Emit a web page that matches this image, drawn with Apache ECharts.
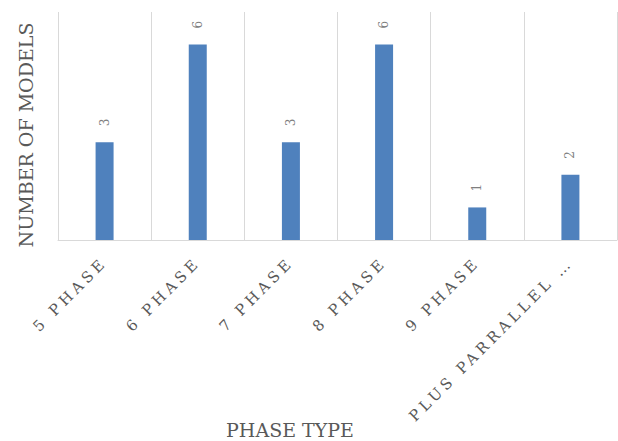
<!DOCTYPE html>
<html><head><meta charset="utf-8">
<script src="https://cdn.jsdelivr.net/npm/echarts@6/dist/echarts.min.js"></script>
<style>
html,body{margin:0;padding:0;background:#fff;}
#chart{width:618px;height:441px;}
#chart text[style*="15px"]{letter-spacing:4px;}
</style></head><body><div id="chart"></div>
<script>
const categories = ['5 PHASE', '6 PHASE', '7 PHASE', '8 PHASE', '9 PHASE', 'PLUS PARRALLEL …'];
const modelCounts = [3, 6, 3, 6, 1, 2];
const yAxisTitle = 'NUMBER OF MODELS';
const xAxisTitle = 'PHASE TYPE';

const chart = echarts.init(document.getElementById('chart'), null, {renderer: 'svg'});
chart.setOption({
  animation: false,
  backgroundColor: '#ffffff',
  grid: {left: 58, right: 1, top: 12, bottom: 201, containLabel: false},
  xAxis: {
    type: 'category',
    data: categories,
    axisLine: {lineStyle: {color: '#d9d9d9', width: 1}},
    axisTick: {show: false},
    splitLine: {show: true, interval: 0, lineStyle: {color: '#d9d9d9', width: 1}},
    axisLabel: {
      interval: 0, rotate: 45, margin: 20,
      fontFamily: 'DejaVu Serif', fontSize: 15, color: '#595959'
    }
  },
  yAxis: {
    type: 'value', min: 0, max: 7,
    axisLine: {show: false}, axisTick: {show: false},
    axisLabel: {show: false}, splitLine: {show: false}
  },
  series: [{
    type: 'bar',
    data: modelCounts,
    barWidth: 18,
    itemStyle: {color: '#4f81bd'},
    label: {
      show: true, position: 'top', distance: 16, rotate: 90,
      align: 'left', verticalAlign: 'middle',
      fontFamily: 'DejaVu Serif', fontSize: 12, color: '#7f7f7f'
    }
  }],
  graphic: [
    {type: 'text', x: 26, y: 135, rotation: Math.PI / 2,
     style: {text: yAxisTitle, fontFamily: 'DejaVu Serif', fontSize: 19, fill: '#595959',
             align: 'center', verticalAlign: 'middle'}},
    {type: 'text', x: 290, y: 430,
     style: {text: xAxisTitle, fontFamily: 'DejaVu Serif', fontSize: 19, fill: '#595959',
             align: 'center', verticalAlign: 'middle'}}
  ]
});
</script></body></html>
